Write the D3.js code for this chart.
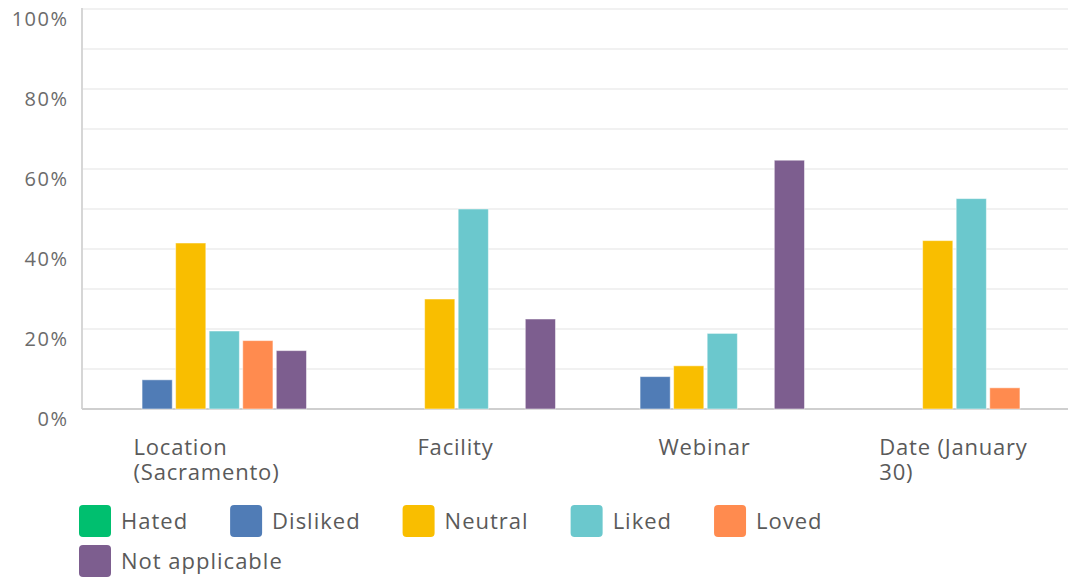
<!DOCTYPE html>
<html>
<head>
<meta charset="utf-8">
<script src="https://cdn.jsdelivr.net/npm/d3@7"></script>
<style>
  html, body { margin: 0; padding: 0; background: #fff; }
  svg { display: block; font-family: 'Open Sans', sans-serif; }
</style>
</head>
<body>
<svg id="chart" width="1068" height="578"></svg>
<script>
const categories = [['Location', '(Sacramento)'], ['Facility'], ['Webinar'], ['Date (January', '30)']]
const seriesKeys = ['Hated', 'Disliked', 'Neutral', 'Liked', 'Loved', 'Not applicable']
const seriesColors = ['#00bf6f', '#507cb6', '#f9be00', '#6bc8cd', '#ff8b4f', '#7d5e8f']

// percent of respondents, one array per category, in seriesKeys order
const locationValues = [0, 7.3, 41.5, 19.5, 17.1, 14.6]
const facilityValues = [0, 0, 27.5, 50, 0, 22.5]
const webinarValues = [0, 8.1, 10.8, 18.9, 0, 62.2]
const dateValues = [0, 0, 42.1, 52.6, 5.3, 0]
const valuesByCategory = [locationValues, facilityValues, webinarValues, dateValues]

const yTicks = [0, 20, 40, 60, 80, 100]
const gridTicks = [10, 20, 30, 40, 50, 60, 70, 80, 90, 100]

const W = 1068
const margin = { top: 9, left: 82 }
const plotH = 400
const plotRight = 1078 // chart continues slightly past the visible edge

const svg = d3.select('#chart')

const y = d3.scaleLinear().domain([0, 100]).range([margin.top + plotH, margin.top])
const x0 = d3.scaleBand().domain(d3.range(categories.length)).range([margin.left, plotRight])
const groupW = 198
const x1 = d3.scaleBand().domain(seriesKeys).range([0, groupW]).paddingInner(0.1)
const color = d3.scaleOrdinal().domain(seriesKeys).range(seriesColors)

// gridlines
svg.append('g')
  .selectAll('line')
  .data(gridTicks)
  .join('line')
  .attr('x1', margin.left)
  .attr('x2', W)
  .attr('y1', (d) => y(d))
  .attr('y2', (d) => y(d))
  .attr('stroke', '#ececec')
  .attr('stroke-width', 1.5)

// y axis line + baseline
svg.append('line')
  .attr('x1', margin.left).attr('x2', margin.left)
  .attr('y1', margin.top - 1).attr('y2', y(0))
  .attr('stroke', '#d6d6d6').attr('stroke-width', 2)
svg.append('line')
  .attr('x1', margin.left).attr('x2', W)
  .attr('y1', y(0)).attr('y2', y(0))
  .attr('stroke', '#cfcfcf').attr('stroke-width', 2)

// y tick labels
svg.append('g')
  .selectAll('text')
  .data(yTicks)
  .join('text')
  .attr('x', 68.5)
  .attr('y', (d) => y(d) + 17)
  .attr('text-anchor', 'end')
  .attr('fill', '#6b6b6b')
  .style('font-size', '20px')
  .style('letter-spacing', '1.5px')
  .text((d) => d + '%')

// bars
const groups = svg.append('g')
  .selectAll('g')
  .data(valuesByCategory)
  .join('g')
  .attr('transform', (d, i) => `translate(${x0(i) + (x0.bandwidth() - groupW) / 2 + 1},0)`)

groups.selectAll('rect')
  .data((vals) => vals.map((v, j) => ({ key: seriesKeys[j], value: v })).filter((d) => d.value > 0))
  .join('rect')
  .attr('x', (d) => x1(d.key))
  .attr('width', x1.bandwidth())
  .attr('y', (d) => y(d.value))
  .attr('height', (d) => y(0) - y(d.value))
  .attr('fill', (d) => color(d.key))
  .attr('stroke', '#fff')
  .attr('stroke-opacity', 0.5)
  .attr('stroke-width', 1)

// category labels: wrapped block, left aligned, centered on the band
const labelG = svg.append('g')
categories.forEach((lines, i) => {
  const t = labelG.append('text')
    .attr('fill', '#5a5a5a')
    .style('font-size', '22px')
    .style('letter-spacing', '0.8px')
  lines.forEach((ln, k) => {
    t.append('tspan').attr('y', 455 + k * 25).text(ln)
  })
  const maxW = d3.max(t.selectAll('tspan').nodes(), (n) => n.getComputedTextLength())
  const cx = x0(i) + x0.bandwidth() / 2
  t.selectAll('tspan').attr('x', cx - maxW / 2)
})

// legend
const legend = svg.append('g')
let lx = 79
let ly = 505
seriesKeys.forEach((k) => {
  const item = legend.append('g')
  item.append('rect')
    .attr('width', 32).attr('height', 32)
    .attr('rx', 4)
    .attr('fill', color(k))
  const txt = item.append('text')
    .attr('x', 42).attr('y', 24)
    .attr('fill', '#5a5a5a')
    .style('font-size', '22px')
    .style('letter-spacing', '1px')
    .text(k)
  const w = 42 + txt.node().getComputedTextLength() + 42
  if (lx + w > W - 20) {
    lx = 79
    ly += 40
  }
  item.attr('transform', `translate(${lx},${ly})`)
  lx += w
})
</script>
</body>
</html>
